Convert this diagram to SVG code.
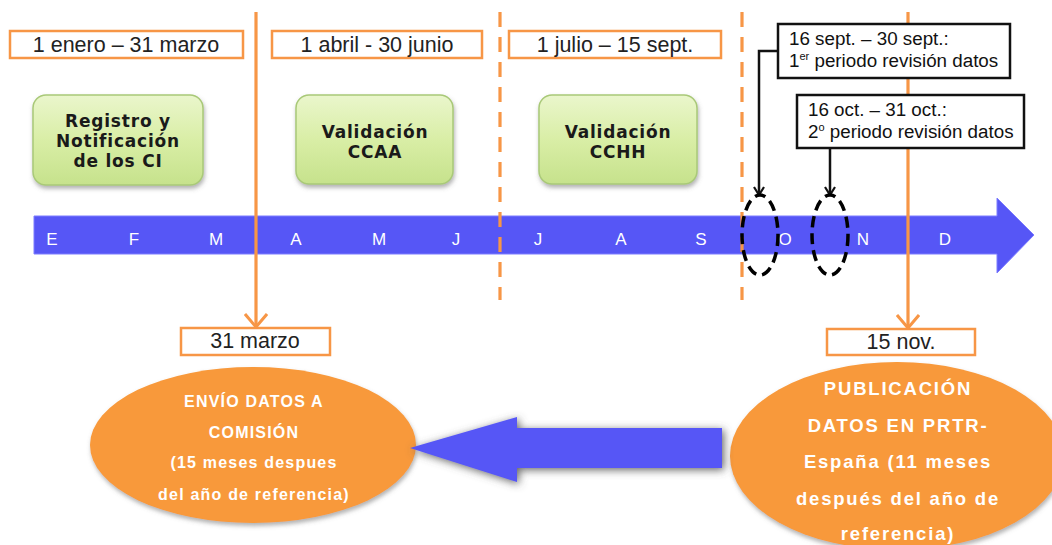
<svg xmlns="http://www.w3.org/2000/svg" width="1052" height="545" viewBox="0 0 1052 545">
<defs>
<style>
.obox{fill:#fff;stroke:#f79646;stroke-width:2.5}
.bbox{fill:#fff;stroke:#111;stroke-width:2.5}
.otxt{font-family:"Liberation Sans",Arial,sans-serif;font-size:21.5px;fill:#222;text-anchor:middle}
.btxt{font-family:"Liberation Sans",Arial,sans-serif;font-size:18.8px;fill:#111}
.gbox{fill:url(#gGreen);stroke:#a9c978;stroke-width:1.5;filter:url(#shadow)}
.gtxt{font-family:"DejaVu Sans",Verdana,sans-serif;font-weight:bold;font-size:17px;letter-spacing:0.8px;fill:#1a1a1a;text-anchor:middle}
.mon{font-family:"Liberation Sans",Arial,sans-serif;font-size:17px;fill:#fff;text-anchor:middle}
.oline{stroke:#f79646;stroke-width:3.2;fill:none}
.dline{stroke:#f79646;stroke-width:3.2;fill:none;stroke-dasharray:15 10}
.kline{stroke:#111;stroke-width:2.5;fill:none}
.dell{fill:none;stroke:#000;stroke-width:3.5;stroke-dasharray:11 6}
.oell{fill:#f8993a;filter:url(#shadow)}
.etxt1{font-family:"Liberation Sans",Arial,sans-serif;font-weight:bold;font-size:16px;letter-spacing:1.2px;fill:#fff;text-anchor:middle}
.etxt2{font-family:"Liberation Sans",Arial,sans-serif;font-weight:bold;font-size:18.5px;letter-spacing:1.8px;fill:#fff;text-anchor:middle}
</style>
<linearGradient id="gGreen" x1="0" y1="0" x2="0" y2="1">
<stop offset="0" stop-color="#eaf6cc"/>
<stop offset="0.5" stop-color="#d9eea6"/>
<stop offset="1" stop-color="#c6e28c"/>
</linearGradient>
<filter id="shadow" x="-20%" y="-20%" width="140%" height="150%">
<feDropShadow dx="1" dy="3" stdDeviation="2" flood-color="#666" flood-opacity="0.5"/>
</filter>
<filter id="glow" x="-20%" y="-40%" width="140%" height="180%">
<feGaussianBlur in="SourceAlpha" stdDeviation="4" result="b"/>
<feOffset in="b" dx="2" dy="2" result="o"/>
<feFlood flood-color="#555" flood-opacity="0.9"/>
<feComposite in2="o" operator="in" result="s"/>
<feMerge><feMergeNode in="s"/><feMergeNode in="SourceGraphic"/></feMerge>
</filter>
<marker id="oArrow" viewBox="0 0 24 16" refX="12" refY="14" markerWidth="24" markerHeight="16" markerUnits="userSpaceOnUse" orient="0">
<path d="M1,1 L12,14 L23,1" fill="none" stroke="#f79646" stroke-width="3"/>
</marker>
<marker id="kArrow" viewBox="0 0 12 10" refX="6" refY="9" markerWidth="12" markerHeight="10" markerUnits="userSpaceOnUse" orient="0">
<path d="M1,1 L6,9 L11,1" fill="none" stroke="#111" stroke-width="2.2"/>
</marker>
</defs>
<rect width="1052" height="545" fill="#fff"/>

<g id="timeline">
<polygon points="34,216 997,216 997,198 1034,235 997,273 997,254 34,254" fill="#5656f6" stroke="#7c7cff" stroke-width="1"/>
<text class="mon" x="52" y="245">E</text>
<text class="mon" x="134" y="245">F</text>
<text class="mon" x="216" y="245">M</text>
<text class="mon" x="296" y="245">A</text>
<text class="mon" x="379" y="245">M</text>
<text class="mon" x="456" y="245">J</text>
<text class="mon" x="538" y="245">J</text>
<text class="mon" x="621" y="245">A</text>
<text class="mon" x="701" y="245">S</text>
<text class="mon" x="785" y="245">O</text>
<text class="mon" x="863" y="245">N</text>
<text class="mon" x="945" y="245">D</text>
</g>

<g id="connectors">
<line class="oline" x1="256" y1="12" x2="256" y2="327" marker-end="url(#oArrow)"/>
<line class="oline" x1="908" y1="12" x2="908" y2="328" marker-end="url(#oArrow)"/>
<line class="dline" x1="500" y1="12" x2="500" y2="300"/>
<line class="dline" x1="742" y1="12" x2="742" y2="300"/>
<polyline class="kline" points="778,51 759,51 759,195" marker-end="url(#kArrow)"/>
<line class="kline" x1="830" y1="148" x2="830" y2="195" marker-end="url(#kArrow)"/>
</g>

<g id="period1">
<rect class="obox" x="10" y="31" width="233" height="27"/>
<text class="otxt" x="126" y="52">1 enero – 31 marzo</text>
</g>
<g id="period2">
<rect class="obox" x="272" y="31" width="210" height="27"/>
<text class="otxt" x="377" y="52">1 abril - 30 junio</text>
</g>
<g id="period3">
<rect class="obox" x="509" y="31" width="212" height="27"/>
<text class="otxt" x="615" y="52">1 julio – 15 sept.</text>
</g>

<g id="registro">
<rect class="gbox" x="33" y="95" width="170" height="90" rx="13"/>
<text class="gtxt" x="118" y="127">Registro y</text>
<text class="gtxt" x="118" y="147">Notificación</text>
<text class="gtxt" x="118" y="167">de los CI</text>
</g>
<g id="validacionCCAA">
<rect class="gbox" x="296" y="95" width="157" height="89" rx="13"/>
<text class="gtxt" x="375" y="138">Validación</text>
<text class="gtxt" x="375" y="158">CCAA</text>
</g>
<g id="validacionCCHH">
<rect class="gbox" x="539" y="95" width="158" height="89" rx="13"/>
<text class="gtxt" x="618" y="138">Validación</text>
<text class="gtxt" x="618" y="158">CCHH</text>
</g>

<g id="revision1">
<rect class="bbox" x="778" y="24" width="232" height="54"/>
<text class="btxt" x="789" y="45">16 sept. – 30 sept.:</text>
<text class="btxt" x="789" y="67">1<tspan font-size="11" dy="-7">er</tspan><tspan dy="7"> periodo revisión  datos</tspan></text>
</g>
<g id="revision2">
<rect class="bbox" x="797" y="95" width="227" height="53"/>
<text class="btxt" x="808" y="116">16 oct. – 31 oct.:</text>
<text class="btxt" x="808" y="138">2<tspan font-size="11" dy="-7">o</tspan><tspan dy="7"> periodo revisión datos</tspan></text>
</g>

<g id="oval1">
<ellipse class="dell" cx="760" cy="235" rx="18" ry="40"/>
</g>
<g id="oval2">
<ellipse class="dell" cx="830" cy="235" rx="18" ry="40"/>
</g>

<g id="date31marzo">
<rect class="obox" x="181" y="328" width="149" height="27"/>
<text class="otxt" x="255" y="348">31 marzo</text>
</g>
<g id="date15nov">
<rect class="obox" x="827" y="329" width="148" height="26"/>
<text class="otxt" x="901" y="349">15 nov.</text>
</g>

<g id="envio">
<ellipse class="oell" cx="253" cy="445" rx="163" ry="78"/>
<text class="etxt1" x="254" y="407">ENVÍO DATOS A</text>
<text class="etxt1" x="254" y="438">COMISIÓN</text>
<text class="etxt1" x="254" y="468">(15 meses despues</text>
<text class="etxt1" x="254" y="500">del año de referencia)</text>
</g>

<g id="publicacion">
<ellipse class="oell" cx="897" cy="456" rx="167" ry="94"/>
<text class="etxt2" x="898" y="395">PUBLICACIÓN</text>
<text class="etxt2" x="898" y="432">DATOS EN PRTR-</text>
<text class="etxt2" x="898" y="468">España (11 meses</text>
<text class="etxt2" x="898" y="505">después del año de</text>
<text class="etxt2" x="898" y="540">referencia)</text>
</g>

<g id="flowArrow">
<polygon points="410,448 517,417 517,428 722,428 722,468 517,468 517,482" fill="#5656f6" filter="url(#glow)"/>
</g>
</svg>
